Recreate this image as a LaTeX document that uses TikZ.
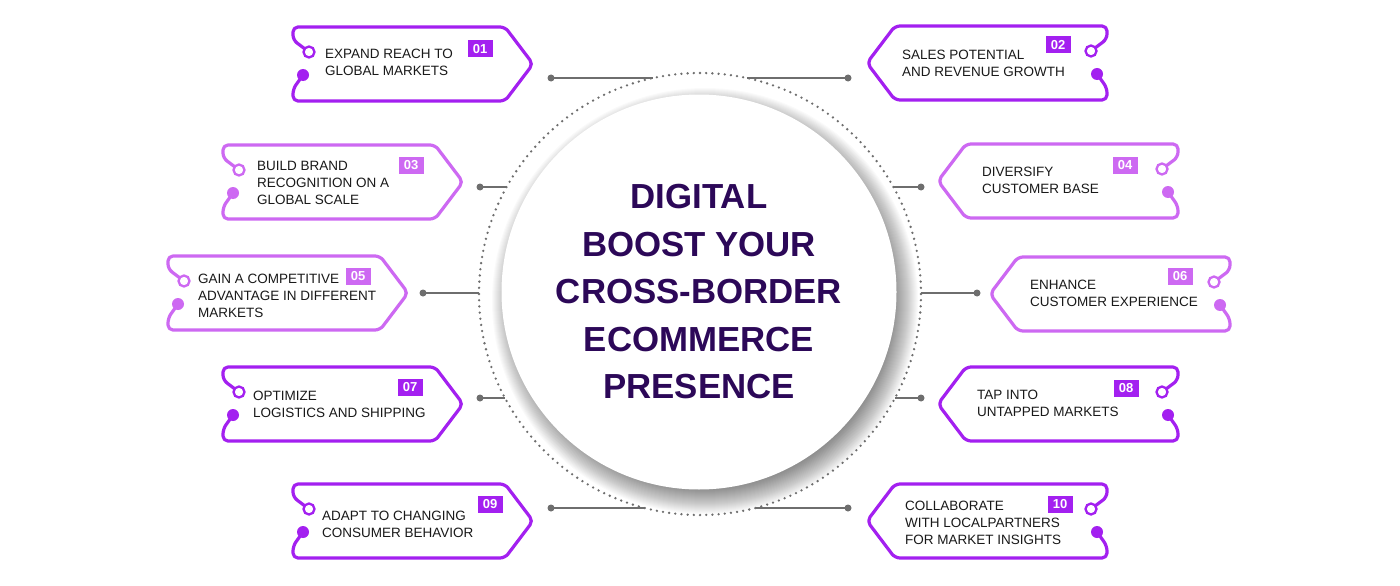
\documentclass[tikz,border=0pt]{standalone}
\usepackage{fontspec}
\setmainfont{Liberation Sans}
\definecolor{pdark}{RGB}{163,32,240}
\definecolor{plight}{RGB}{205,105,242}
\definecolor{ttl}{RGB}{44,8,88}
\definecolor{conn}{RGB}{110,110,110}
\definecolor{txt}{RGB}{25,25,25}
\tikzset{
  outline/.style={line width=3.2pt, rounded corners=5pt, line join=round},
  opendot/.style={circle, line width=2.3pt, fill=white, minimum size=11pt, inner sep=0pt},
  fulldot/.style={circle, minimum size=12pt, inner sep=0pt},
  numbox/.style={minimum width=25pt, minimum height=17pt, inner sep=0pt, text=white, font=\fontsize{13}{13}\selectfont\bfseries},
  boxlabel/.style={anchor=west, align=left, inner sep=0pt, text=txt, font=\fontsize{13.5}{17}\selectfont},
  cdot/.style={circle, fill=conn, minimum size=7pt, inner sep=0pt},
  cline/.style={draw=conn, line width=1.5pt},
}
\newcommand{\leftbox}[4]{%
  \begin{scope}[shift={(#2,#3)}]
    \draw[outline, draw=#4] (16,25) -- (0,13) -- (0,0) -- (212,0) -- (240,37) -- (212,74) -- (0,74) -- (0,62) -- (10,48);
    \node[opendot, draw=#4] (#1o) at (16,25) {};
    \node[fulldot, fill=#4] (#1f) at (10,48) {};
  \end{scope}}
\newcommand{\rightbox}[4]{%
  \begin{scope}[shift={(#2,#3)}, xscale=-1]
    \draw[outline, draw=#4] (16,25) -- (0,13) -- (0,0) -- (212,0) -- (240,37) -- (212,74) -- (0,74) -- (0,62) -- (10,48);
    \node[opendot, draw=#4] (#1o) at (16,25) {};
    \node[fulldot, fill=#4] (#1f) at (10,48) {};
  \end{scope}}
\begin{document}
\begin{tikzpicture}[x=1pt,y=-1pt]
\fill[white] (0,0) rectangle (1400,586);
\useasboundingbox (0,0) rectangle (1400,586);

% connectors
\node[cdot] (d1) at (551,78) {};  \coordinate (e1) at (653,78);
\node[cdot] (d2) at (848,78) {};  \coordinate (e2) at (747,78);
\node[cdot] (d3) at (480,187) {}; \coordinate (e3) at (507,187);
\node[cdot] (d4) at (921,187) {}; \coordinate (e4) at (893,187);
\node[cdot] (d5) at (423,293) {}; \coordinate (e5) at (479,293);
\node[cdot] (d6) at (977,293) {}; \coordinate (e6) at (921,293);
\node[cdot] (d7) at (480,398) {}; \coordinate (e7) at (505,398);
\node[cdot] (d8) at (921,398) {}; \coordinate (e8) at (895,398);
\node[cdot] (d9) at (551,508) {}; \coordinate (e9) at (645,508);
\node[cdot] (d10) at (848,508) {}; \coordinate (e10) at (755,508);
\foreach \i in {1,...,10} {\draw[cline] (d\i.center) -- (e\i);}

% shadow of the centre disc
\foreach \k in {184,...,213} {\fill[black, opacity=0.018] (705,301) circle (\k);}
% centre
\node[circle, fill=white, minimum size=395pt, inner sep=0pt] (core) at (699,292) {};
\node[circle, minimum size=442pt, inner sep=0pt, draw=conn, line width=2.6pt, line cap=round, dash pattern=on 0pt off 6.2pt] (ring) at (700,294) {};
\node[align=center, text=ttl, font=\fontsize{34.8}{47.5}\selectfont\bfseries] (title) at (699,292) {DIGITAL\\BOOST YOUR\\CROSS-BORDER\\ECOMMERCE\\PRESENCE};

% boxes
\leftbox{b1}{293}{27}{pdark}
\rightbox{b2}{1107}{26}{pdark}
\leftbox{b3}{223}{145}{plight}
\rightbox{b4}{1178}{144}{plight}
\leftbox{b5}{168}{256}{plight}
\rightbox{b6}{1230}{257}{plight}
\leftbox{b7}{223}{367}{pdark}
\rightbox{b8}{1178}{367}{pdark}
\leftbox{b9}{293}{484}{pdark}
\rightbox{b10}{1107}{484}{pdark}

% numbers
\node[numbox, fill=pdark] (n1) at (480,49) {01};
\node[numbox, fill=pdark] (n2) at (1058,45) {02};
\node[numbox, fill=plight] (n3) at (411,165) {03};
\node[numbox, fill=plight] (n4) at (1125,165) {04};
\node[numbox, fill=plight] (n5) at (358,276) {05};
\node[numbox, fill=plight] (n6) at (1180,276) {06};
\node[numbox, fill=pdark] (n7) at (410,387) {07};
\node[numbox, fill=pdark] (n8) at (1126,388) {08};
\node[numbox, fill=pdark] (n9) at (490,504) {09};
\node[numbox, fill=pdark] (n10) at (1060,504) {10};

% labels
\node[boxlabel] (t1) at (325,62) {EXPAND REACH TO\\GLOBAL MARKETS};
\node[boxlabel] (t2) at (902,63) {SALES POTENTIAL\\AND REVENUE GROWTH};
\node[boxlabel] (t3) at (257,183) {BUILD BRAND\\RECOGNITION ON A\\GLOBAL SCALE};
\node[boxlabel] (t4) at (982,180) {DIVERSIFY\\CUSTOMER BASE};
\node[boxlabel] (t5) at (198,296) {GAIN A COMPETITIVE\\ADVANTAGE IN DIFFERENT\\MARKETS};
\node[boxlabel] (t6) at (1030,293.5) {ENHANCE\\CUSTOMER EXPERIENCE};
\node[boxlabel] (t7) at (253,404) {OPTIMIZE\\LOGISTICS AND SHIPPING};
\node[boxlabel] (t8) at (977,403) {TAP INTO\\UNTAPPED MARKETS};
\node[boxlabel] (t9) at (322,524) {ADAPT TO CHANGING\\CONSUMER BEHAVIOR};
\node[boxlabel] (t10) at (905,523) {COLLABORATE\\WITH LOCALPARTNERS\\FOR MARKET INSIGHTS};
\end{tikzpicture}
\end{document}
